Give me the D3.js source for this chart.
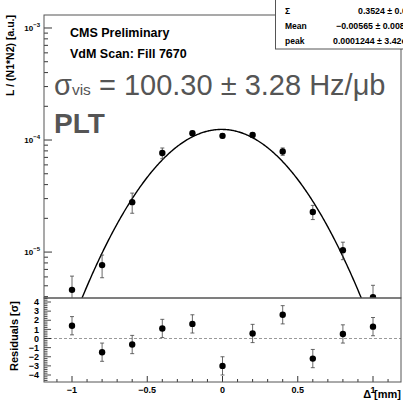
<!DOCTYPE html>
<html><head><meta charset="utf-8">
<script src="https://cdn.jsdelivr.net/npm/d3@7"></script>
<style>body{margin:0;background:#fff;}svg{display:block;font-family:"Liberation Sans",Arial,sans-serif;}</style>
</head><body>
<svg id="c" width="403" height="400"></svg>
<script>
// ---- data ----
const xPos      = [-1.0, -0.8, -0.6, -0.4, -0.2, 0.0, 0.2, 0.4, 0.6, 0.8, 1.0];
const rate      = [4.6e-6, 7.65e-6, 2.79e-5, 7.65e-5, 1.15e-4, 1.09e-4, 1.11e-4, 7.9e-5, 2.28e-5, 1.04e-5, 3.95e-6];
const rateErr   = [1.5e-6, 1.75e-6, 5.7e-6, 8.4e-6, 5e-6, 5e-6, 5e-6, 6e-6, 3.3e-6, 1.85e-6, 1.1e-6];
const residual  = [1.4, -1.5, -0.66, 1.1, 1.6, -3.0, 0.55, 2.6, -2.2, 0.5, 1.3];
const residErr  = [1, 1, 1, 1, 1, 1, 1, 1, 1, 1, 1];
const fitSigma = 0.3524, fitMean = -0.00565, fitPeak = 0.0001244;
const statLabels = ["\u03A3", "Mean", "peak"];
const statValues = ["0.3524 \u00B1 0.0108", "\u22120.00565 \u00B1 0.00850", "0.0001244 \u00B1 3.42e\u221206"];
const xTicks = [-1, -0.5, 0, 0.5, 1];
const residTicks = [-4, -3, -2, -1, 0, 1, 2, 3, 4];
const logTicks = [1e-5, 1e-4, 1e-3];
const logTickLabels = ["5", "4", "3"];

// ---- layout ----
const svg = d3.select("#c");
const L = 44, R = 401, T = 15, M = 298, B = 382;
const x = d3.scaleLinear().domain([-1, 1]).range([72, 373]);
const y = d3.scaleLog().domain([Math.pow(10, -5.41), Math.pow(10, -2.884)]).range([M, T]);
const yr = d3.scaleLinear().domain([-4, 4]).range([375, 302]);

const defs = svg.append("defs");
defs.append("clipPath").attr("id", "topclip")
  .append("rect").attr("x", L).attr("y", T).attr("width", R - L).attr("height", M - T);
defs.append("clipPath").attr("id", "botclip")
  .append("rect").attr("x", L).attr("y", M).attr("width", R - L).attr("height", B - M);

// ---- top panel ----
const topG = svg.append("g");
const yTickVals = [];
for (let e = -6; e <= -3; e++) for (let m = 1; m <= 9; m++) {
  const v = m * Math.pow(10, e);
  if (v >= y.domain()[0] && v <= y.domain()[1]) yTickVals.push({v, major: m === 1});
}
topG.selectAll("line.yt").data(yTickVals).join("line")
  .attr("x1", L).attr("x2", d => L + (d.major ? 8 : 4))
  .attr("y1", d => y(d.v)).attr("y2", d => y(d.v))
  .attr("stroke", "#000").attr("stroke-width", 0.8);
const lt = topG.selectAll("text.ylab").data(logTicks).join("text")
  .attr("x", 40).attr("y", d => y(d) + 3).attr("text-anchor", "end")
  .attr("font-size", 8).attr("font-weight", "bold");
lt.append("tspan").text("10");
lt.append("tspan").attr("dy", -4).attr("font-size", 6).text((d, i) => "\u2212" + logTickLabels[i]);

// fit curve
const fitX = d3.range(-1.19, 1.1901, 0.005);
const fitLine = d3.line().x(d => x(d)).y(d => y(fitPeak * Math.exp(-Math.pow(d - fitMean, 2) / (2 * fitSigma * fitSigma))));
topG.append("path").datum(fitX).attr("d", fitLine).attr("fill", "none")
  .attr("stroke", "#000").attr("stroke-width", 1.4).attr("clip-path", "url(#topclip)");

// error bars and points
const pts = topG.append("g").attr("clip-path", "url(#topclip)");
xPos.forEach((xv, i) => {
  const lo = Math.max(rate[i] - rateErr[i], 1e-7), hi = rate[i] + rateErr[i];
  const g = pts.append("g").attr("stroke", "#444").attr("stroke-width", 0.8);
  g.append("line").attr("x1", x(xv)).attr("x2", x(xv)).attr("y1", y(lo)).attr("y2", y(hi));
  [lo, hi].forEach(v => g.append("line").attr("x1", x(xv) - 2).attr("x2", x(xv) + 2).attr("y1", y(v)).attr("y2", y(v)));
});
pts.selectAll("circle").data(xPos).join("circle")
  .attr("cx", d => x(d)).attr("cy", (d, i) => y(rate[i])).attr("r", 3.2).attr("fill", "#000");

topG.append("rect").attr("x", L).attr("y", T).attr("width", R - L).attr("height", M - T)
  .attr("fill", "none").attr("stroke", "#555").attr("stroke-width", 1);

svg.append("text").attr("transform", `translate(14,${T}) rotate(-90)`).attr("text-anchor", "end")
  .attr("font-size", 10.5).attr("font-weight", "bold").text("L / (N1*N2) [a.u.]");

svg.append("text").attr("x", 70).attr("y", 37).attr("font-size", 12.5).attr("font-weight", "bold").text("CMS Preliminary");
svg.append("text").attr("x", 70).attr("y", 58).attr("font-size", 12.5).attr("font-weight", "bold").text("VdM Scan: Fill 7670");
const sv = svg.append("text").attr("x", 54).attr("y", 95).attr("font-size", 29).attr("fill", "#555");
sv.append("tspan").text("\u03C3");
sv.append("tspan").attr("font-size", 15.5).text("vis");
sv.append("tspan").text(" = 100.30 \u00B1 3.28 Hz/\u03BCb");
svg.append("text").attr("x", 54).attr("y", 133).attr("font-size", 28).attr("font-weight", "bold").attr("fill", "#555").text("PLT");

// stats box
const sb = svg.append("g");
sb.append("rect").attr("x", 275.5).attr("y", -2).attr("width", 140).attr("height", 51)
  .attr("fill", "#fff").attr("stroke", "#555").attr("stroke-width", 1);
sb.selectAll("text.sl").data(statLabels).join("text")
  .attr("x", 285).attr("y", (d, i) => 14 + i * 15).attr("font-size", 8.5).attr("font-weight", "bold").text(d => d);
const valX = [358, 336, 333];
sb.selectAll("text.sv").data(statValues).join("text")
  .attr("x", (d, i) => valX[i]).attr("y", (d, i) => 14 + i * 15).attr("font-size", 8.8).attr("font-weight", "bold").text(d => d);

// ---- residual panel ----
const botG = svg.append("g");
botG.append("line").attr("x1", L).attr("x2", R).attr("y1", yr(0)).attr("y2", yr(0))
  .attr("stroke", "#999").attr("stroke-width", 1).attr("stroke-dasharray", "3,2");
const rMinor = d3.range(-4.6, 4.41, 0.2).map(v => Math.round(v * 10) / 10);
botG.selectAll("line.ry").data(rMinor).join("line")
  .attr("x1", L).attr("x2", d => L + (Number.isInteger(d) ? 7 : 3.5))
  .attr("y1", d => yr(d)).attr("y2", d => yr(d)).attr("stroke", "#000").attr("stroke-width", 0.7);
botG.selectAll("text.ryl").data(residTicks).join("text")
  .attr("x", 39).attr("y", d => yr(d) + 3.2).attr("text-anchor", "end")
  .attr("font-size", 9).attr("font-weight", "bold").text(d => d < 0 ? "\u2212" + Math.abs(d) : d);
const xMinor = d3.range(-1.1, 1.11, 0.1).map(v => Math.round(v * 10) / 10);
botG.selectAll("line.rx").data(xMinor).join("line")
  .attr("x1", d => x(d)).attr("x2", d => x(d))
  .attr("y1", B).attr("y2", d => B - (xTicks.includes(d) ? 6 : 3)).attr("stroke", "#000").attr("stroke-width", 0.8);
botG.selectAll("text.rxl").data(xTicks).join("text")
  .attr("x", d => x(d)).attr("y", 393).attr("text-anchor", "middle")
  .attr("font-size", 9).attr("font-weight", "bold").text(d => d < 0 ? "\u2212" + Math.abs(d) : d);
const rp = botG.append("g").attr("clip-path", "url(#botclip)");
xPos.forEach((xv, i) => {
  const g = rp.append("g").attr("stroke", "#444").attr("stroke-width", 0.8);
  const lo = residual[i] - residErr[i], hi = residual[i] + residErr[i];
  g.append("line").attr("x1", x(xv)).attr("x2", x(xv)).attr("y1", yr(lo)).attr("y2", yr(hi));
  [lo, hi].forEach(v => g.append("line").attr("x1", x(xv) - 2).attr("x2", x(xv) + 2).attr("y1", yr(v)).attr("y2", yr(v)));
});
rp.selectAll("circle").data(xPos).join("circle")
  .attr("cx", d => x(d)).attr("cy", (d, i) => yr(residual[i])).attr("r", 3.2).attr("fill", "#000");
botG.append("rect").attr("x", L).attr("y", M).attr("width", R - L).attr("height", B - M)
  .attr("fill", "none").attr("stroke", "#555").attr("stroke-width", 1);
svg.append("text").attr("transform", `translate(18,${(M + B) / 2 - 4}) rotate(-90)`).attr("text-anchor", "middle")
  .attr("font-size", 11).attr("font-weight", "bold").text("Residuals [\u03C3]");
svg.append("text").attr("x", 401).attr("y", 397.5).attr("text-anchor", "end")
  .attr("font-size", 11).attr("font-weight", "bold").text("\u0394 [mm]");
</script>
</body></html>
